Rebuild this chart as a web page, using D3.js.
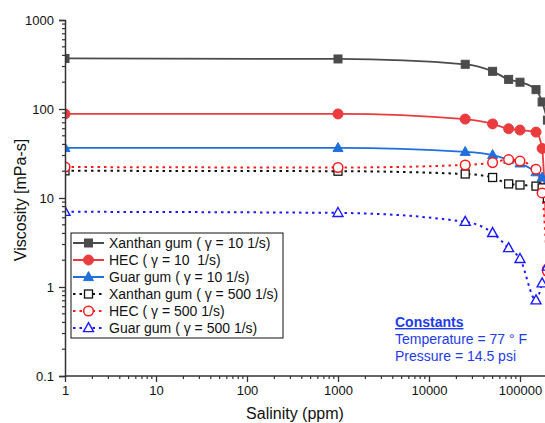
<!DOCTYPE html>
<html>
<head>
<meta charset="utf-8">
<script src="https://cdn.jsdelivr.net/npm/d3@7"></script>
<style>
  html, body { margin: 0; padding: 0; background: #fff; }
  svg { display: block; font-family: "Liberation Sans", Arial, sans-serif; }
</style>
</head>
<body>
<svg id="chart" width="545" height="423"></svg>
<script>
// ---- data ----
const salinity   = [1, 1000, 25000, 50000, 75000, 100000, 150000, 175000, 200000];
const xanthan10  = [370, 365, 318, 265, 215, 200, 165, 120, 75];
const hec10      = [88, 88, 77, 68, 60, 58, 55, 36, 1.6];
const guar10     = [36.5, 36.5, 33, 30.4, 27, 24.5, 19.5, 17, 15];
const xanthan500 = [20.2, 20, 18.6, 17, 14.4, 14, 13.6, 13, 10];
const hec500     = [22.3, 22, 23.5, 25, 27, 26, 21, 11.4, 1.5];
const guar500    = [7.0, 6.8, 5.4, 4.05, 2.74, 2.07, 0.71, 1.1, 1.7];

const seriesNames = [
  "Xanthan gum ( \u03b3 = 10 1/s)",
  "HEC ( \u03b3 = 10  1/s)",
  "Guar gum ( \u03b3 = 10 1/s)",
  "Xanthan gum ( \u03b3 = 500 1/s)",
  "HEC ( \u03b3 = 500 1/s)",
  "Guar gum ( \u03b3 = 500 1/s)"
];
const seriesValues = [xanthan10, hec10, guar10, xanthan500, hec500, guar500];
const xTickValues = [1, 10, 100, 1000, 10000, 100000];
const xTickLabels = ["1", "10", "100", "1000", "10000", "100000"];
const yTickValues = [0.1, 1, 10, 100, 1000];
const yTickLabels = ["0.1", "1", "10", "100", "1000"];
const constantsLines = ["Constants", "Temperature = 77 \u00b0 F", "Pressure = 14.5 psi"];

// ---- styles ----
const styles = [
  {color: "#4b4b4b", fill: "#4b4b4b", shape: "square", dash: null},
  {color: "#ea3b3f", fill: "#ea3b3f", shape: "circle", dash: null},
  {color: "#1f6fdf", fill: "#1f6fdf", shape: "triangle", dash: null},
  {color: "#111111", fill: "#ffffff", shape: "square", dash: "2.5,4"},
  {color: "#ff1a1a", fill: "#ffffff", shape: "circle", dash: "2.5,4"},
  {color: "#1a1aff", fill: "#ffffff", shape: "triangle", dash: "2.5,4"}
];

const svg = d3.select("#chart");
const plotLeft = 65, plotTop = 20, plotBottom = 376;
const decadeX = 91;
const x = d3.scaleLog().domain([1, 1e6]).range([plotLeft, plotLeft + 6 * decadeX]);
const y = d3.scaleLog().domain([0.1, 1000]).range([plotBottom, plotTop]);

svg.append("defs").append("clipPath").attr("id", "plotclip")
  .append("rect").attr("x", plotLeft).attr("y", plotTop - 10).attr("width", 600).attr("height", plotBottom - plotTop + 10);

const axisColor = "#333";

// ---- data lines & markers ----
const plot = svg.append("g").attr("clip-path", "url(#plotclip)");
const line = d3.line().x(d => x(d[0])).y(d => y(d[1])).curve(d3.curveMonotoneX);

function drawMarker(g, shape, cx, cy, st) {
  const filled = st.fill !== "#ffffff";
  if (shape === "square") {
    const s = 8;
    g.append("rect").attr("x", cx - s / 2).attr("y", cy - s / 2).attr("width", s).attr("height", s)
      .attr("fill", st.fill).attr("stroke", st.color).attr("stroke-width", filled ? 1 : 1.3);
  } else if (shape === "circle") {
    g.append("circle").attr("cx", cx).attr("cy", cy).attr("r", filled ? 5 : 4.8)
      .attr("fill", st.fill).attr("stroke", st.color).attr("stroke-width", filled ? 1 : 1.5);
  } else {
    const h = 9, w = 10;
    g.append("path").attr("d", `M${cx},${cy - h * 0.6}L${cx + w / 2},${cy + h * 0.4}L${cx - w / 2},${cy + h * 0.4}Z`)
      .attr("fill", st.fill).attr("stroke", st.color).attr("stroke-width", filled ? 1 : 1.4);
  }
}

seriesValues.forEach((vals, i) => {
  const st = styles[i];
  const pts = salinity.map((s, j) => [s, vals[j]]);
  plot.append("path").attr("d", line(pts)).attr("fill", "none")
    .attr("stroke", st.color).attr("stroke-width", st.dash ? 2 : 1.8)
    .attr("stroke-dasharray", st.dash);
});
seriesValues.forEach((vals, i) => {
  const st = styles[i];
  const g = plot.append("g");
  salinity.forEach((s, j) => drawMarker(g, st.shape, x(s), y(vals[j]), st));
});

// ---- axes ----
const xMinor = [];
for (let d = 1; d <= 1e5; d *= 10) for (let k = 2; k <= 9; k++) xMinor.push(d * k);
const yMinor = [];
for (let d = 0.1; d < 999; d *= 10) for (let k = 2; k <= 9; k++) yMinor.push(d * k);

const xAxis = svg.append("g").attr("transform", `translate(0,${plotBottom})`)
  .call(d3.axisBottom(x).tickValues(xTickValues).tickFormat((d, i) => xTickLabels[i]).tickSizeOuter(0).tickSize(6).tickPadding(4));
xAxis.append("g").selectAll("line").data(xMinor).join("line")
  .attr("x1", d => x(d)).attr("x2", d => x(d)).attr("y1", 0).attr("y2", 3)
  .attr("stroke", axisColor).attr("stroke-width", 1.2);
xAxis.select(".domain").attr("d", `M${plotLeft},0H560`);

const yAxis = svg.append("g").attr("transform", `translate(${plotLeft},0)`)
  .call(d3.axisLeft(y).tickValues(yTickValues).tickFormat((d, i) => yTickLabels[i]).tickSizeOuter(0).tickSize(6).tickPadding(5));
yAxis.append("g").selectAll("line").data(yMinor).join("line")
  .attr("y1", d => y(d)).attr("y2", d => y(d)).attr("x1", 0).attr("x2", -3)
  .attr("stroke", axisColor).attr("stroke-width", 1.2);

[xAxis, yAxis].forEach(a => {
  a.select(".domain").attr("stroke", axisColor).attr("stroke-width", 1.5);
  a.selectAll(".tick line").attr("stroke", axisColor).attr("stroke-width", 1.3);
  a.selectAll(".tick text").attr("fill", "#111").attr("font-size", 13)
    .attr("font-family", "Liberation Sans, Arial, sans-serif");
});

svg.append("text").attr("x", 295).attr("y", 419).attr("text-anchor", "middle")
  .attr("font-size", 16).attr("fill", "#111").text("Salinity (ppm)");
svg.append("text").attr("transform", "translate(26,200) rotate(-90)").attr("text-anchor", "middle")
  .attr("font-size", 16).attr("fill", "#111").text("Viscosity [mPa-s]");

// ---- legend ----
const legend = svg.append("g");
legend.append("rect").attr("x", 71).attr("y", 233).attr("width", 212).attr("height", 105)
  .attr("fill", "#fff").attr("stroke", "#111").attr("stroke-width", 1);
seriesNames.forEach((name, i) => {
  const st = styles[i];
  const cy = 243 + i * 17;
  legend.append("line").attr("x1", 73).attr("x2", 104).attr("y1", cy).attr("y2", cy)
    .attr("stroke", st.color).attr("stroke-width", 2).attr("stroke-dasharray", st.dash);
  drawMarker(legend, st.shape, 88.5, cy, st);
  legend.append("text").attr("x", 109).attr("y", cy + 5).attr("font-size", 14)
    .attr("fill", "#111").style("white-space", "pre").text(name);
});

// ---- constants ----
const cons = svg.append("g").attr("fill", "#1f3be8").attr("font-size", 14);
constantsLines.forEach((t, i) => {
  cons.append("text").attr("x", 395).attr("y", 327 + i * 17)
    .attr("font-weight", i === 0 ? "bold" : "normal")
    .attr("text-decoration", i === 0 ? "underline" : null).text(t);
});
</script>
</body>
</html>
